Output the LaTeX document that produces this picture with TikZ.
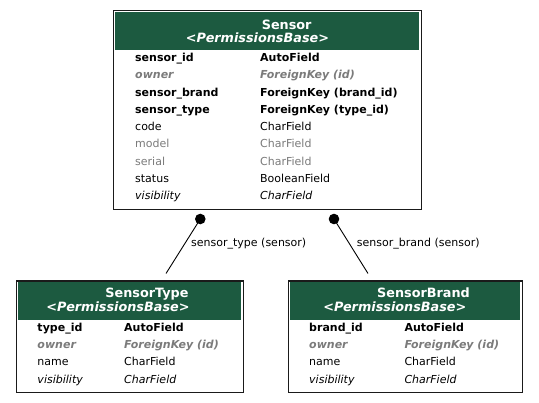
\documentclass[tikz,border=0pt]{standalone}
\usepackage{fontspec}
\setmainfont{DejaVu Sans}
\definecolor{hdr}{HTML}{1C5A40}
\definecolor{dim}{HTML}{7B7B7B}
\definecolor{frame}{HTML}{1A1A1A}
\begin{document}
\begin{tikzpicture}[x=1pt,y=-1pt,
  box/.style={draw=frame, line width=1.4pt, fill=white, rectangle, inner sep=0pt, anchor=north west},
  fld/.style={anchor=base west, inner sep=0pt, font=\fontsize{11}{13}\selectfont},
  fb/.style={fld, font=\fontsize{11}{13}\selectfont\bfseries},
  fo/.style={fld, text=dim, font=\fontsize{11}{13}\selectfont\bfseries\itshape},
  fr/.style={fld},
  fg/.style={fld, text=dim},
  fi/.style={fld, font=\fontsize{11}{13}\selectfont\itshape},
  ttl/.style={anchor=base, inner sep=0pt, text=white, font=\fontsize{12.8}{15}\selectfont\bfseries},
  pb/.style={ttl, font=\fontsize{12.8}{15}\selectfont\bfseries\itshape},
  dot/.style={circle, fill=black, inner sep=0pt, minimum size=10.6pt},
  conn/.style={draw=black, line width=0.9pt},
  elab/.style={anchor=base west, inner sep=0pt, font=\fontsize{11}{13}\selectfont}]
\useasboundingbox (0,0) rectangle (539,403);
\fill[white] (0,0) rectangle (539,403);

% ---------- Sensor ----------
\node[box, minimum width=307.8pt, minimum height=199pt] (sensor) at (112.7,10) {};
\fill[hdr] (114.7,12) rectangle (418.5,49.7);
\node[ttl] (sensorT) at (286.7,30) {Sensor};
\node[pb] (sensorP) at (257.5,43) {<PermissionsBase>};
\node[fb] (s1a) at (135,61.5) {sensor\_id};      \node[fb] (s1b) at (260,61.5) {AutoField};
\node[fo] (s2a) at (135,78.8) {owner};           \node[fo] (s2b) at (260,78.8) {ForeignKey (id)};
\node[fb] (s3a) at (135,96.1) {sensor\_brand};   \node[fb] (s3b) at (260,96.1) {ForeignKey (brand\_id)};
\node[fb] (s4a) at (135,113.4) {sensor\_type};   \node[fb] (s4b) at (260,113.4) {ForeignKey (type\_id)};
\node[fr] (s5a) at (135,130.7) {code};           \node[fr] (s5b) at (260,130.7) {CharField};
\node[fg] (s6a) at (135,148.0) {model};          \node[fg] (s6b) at (260,148.0) {CharField};
\node[fg] (s7a) at (135,165.3) {serial};         \node[fg] (s7b) at (260,165.3) {CharField};
\node[fr] (s8a) at (135,182.6) {status};         \node[fr] (s8b) at (260,182.6) {BooleanField};
\node[fi] (s9a) at (135,199.9) {visibility};     \node[fi] (s9b) at (260,199.9) {CharField};

% ---------- SensorType ----------
\node[box, minimum width=227.1pt, minimum height=111.7pt] (stype) at (15.7,280.3) {};
\fill[hdr] (17.7,282) rectangle (240.8,320.3);
\node[ttl] (stypeT) at (147,298) {SensorType};
\node[pb] (stypeP) at (118,311.3) {<PermissionsBase>};
\node[fb] (t1a) at (37.3,331.3) {type\_id};      \node[fb] (t1b) at (124,331.3) {AutoField};
\node[fo] (t2a) at (37.3,348.6) {owner};         \node[fo] (t2b) at (124,348.6) {ForeignKey (id)};
\node[fr] (t3a) at (37.3,365.9) {name};          \node[fr] (t3b) at (124,365.9) {CharField};
\node[fi] (t4a) at (37.3,383.2) {visibility};    \node[fi] (t4b) at (124,383.2) {CharField};

% ---------- SensorBrand ----------
\node[box, minimum width=234pt, minimum height=111.7pt] (sbrand) at (288,280.3) {};
\fill[hdr] (290,282) rectangle (520,320.3);
\node[ttl] (sbrandT) at (423.5,298) {SensorBrand};
\node[pb] (sbrandP) at (394.8,311.3) {<PermissionsBase>};
\node[fb] (b1a) at (309,331.3) {brand\_id};      \node[fb] (b1b) at (404.3,331.3) {AutoField};
\node[fo] (b2a) at (309,348.6) {owner};          \node[fo] (b2b) at (404.3,348.6) {ForeignKey (id)};
\node[fr] (b3a) at (309,365.9) {name};           \node[fr] (b3b) at (404.3,365.9) {CharField};
\node[fi] (b4a) at (309,383.2) {visibility};     \node[fi] (b4b) at (404.3,383.2) {CharField};

% ---------- connectors ----------
\node[dot] (dt) at (200.3,219) {};
\node[dot] (db) at (334,219) {};
\coordinate (et) at (166,273.5);
\coordinate (eb) at (368,273.5);
\draw[conn] (dt.center) -- (et);
\draw[conn] (db.center) -- (eb);
\node[elab] (lt) at (191,246.7) {sensor\_type (sensor)};
\node[elab] (lb) at (356.7,246.7) {sensor\_brand (sensor)};
\end{tikzpicture}
\end{document}
